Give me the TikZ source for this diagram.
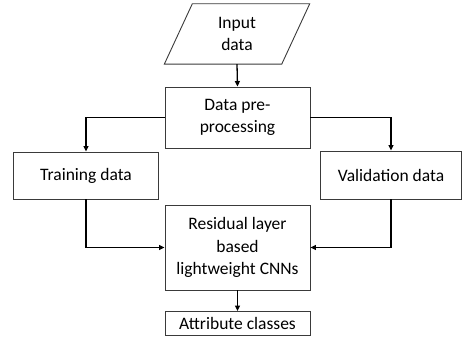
\documentclass[tikz,border=0pt]{standalone}
\usepackage{fontspec}
\setmainfont{Carlito}
\usetikzlibrary{arrows.meta}
\definecolor{edgegray}{HTML}{3A3A3A}

\begin{document}
\begin{tikzpicture}[x=1pt,y=-1pt,
  box/.style={draw=edgegray, line width=0.9pt, fill=white, align=center,
              inner sep=0pt, font=\fontsize{17.5}{21.5}\selectfont},
  arr/.style={draw=black, line width=1.3pt,
              -{Triangle[length=5.5pt,width=5pt]}}]
\useasboundingbox (0,0) rectangle (462,347);

% input parallelogram: text node plus outline drawn from its corners
\node[align=center, inner sep=0pt, minimum width=117pt, minimum height=60pt,
      font=\fontsize{17.5}{21.5}\selectfont] (input) at (237,34) {Input\\data};
\draw[edgegray, line width=0.9pt]
  ([xshift=14pt]input.north west) -- ([xshift=14pt]input.north east)
  -- ([xshift=-14pt]input.south east) -- ([xshift=-14pt]input.south west) -- cycle;

\node[box, minimum width=145pt, minimum height=61pt] (pre) at (237.5,117.5) {Data pre-\\processing};
\node[box, minimum width=145pt, minimum height=47pt] (train) at (86,175.5) {Training data};
\node[box, minimum width=141pt, minimum height=48pt] (valid) at (391,175) {Validation data};
\node[box, minimum width=145pt, minimum height=85pt, font=\fontsize{17.5}{22.5}\selectfont] (res) at (237.5,247.5) {Residual layer\\based\\lightweight CNNs};
\node[box, minimum width=145pt, minimum height=24pt] (attr) at (237.5,323.5) {Attribute classes};

\draw[arr] (input.south) -- (pre.north);
\draw[arr] (pre.west) -| (train.north);
\draw[arr] (pre.east) -| (valid.north);
\draw[arr] (train.south) |- (res.west);
\draw[arr] (valid.south) |- (res.east);
\draw[arr] (res.south) -- (attr.north);
\end{tikzpicture}
\end{document}
